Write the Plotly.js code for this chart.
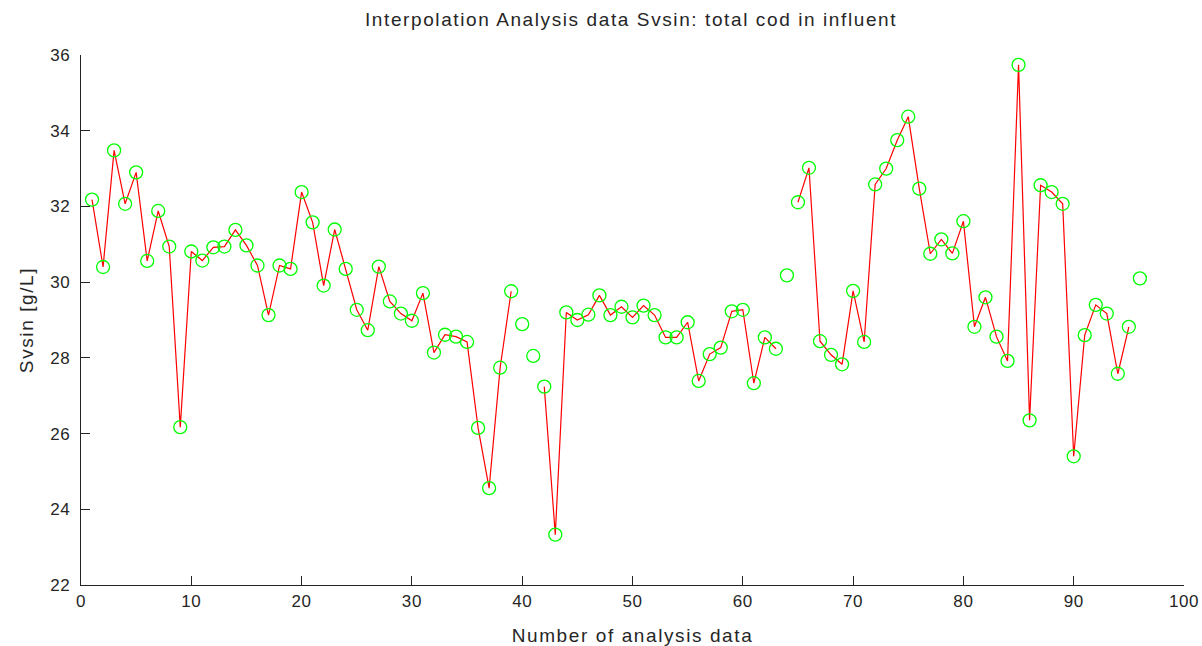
<!DOCTYPE html>
<html>
<head>
<meta charset="utf-8">
<script src="https://cdn.plot.ly/plotly-3.0.1.min.js"></script>
<style>
html,body{margin:0;padding:0;background:#fff;}
#chart{width:1202px;height:646px;}
#chart .gtitle, #chart .xtitle, #chart .ytitle { letter-spacing: 1.6px; }
#chart .xtick text, #chart .ytick text { letter-spacing: 0.6px; }
</style>
</head>
<body>
<div id="chart"></div>
<script>
const sampleIndex = Array.from({length: 96}, (_, i) => i + 1);
const svsinValues = [
  32.18, 30.40, 33.48, 32.07, 32.90, 30.56, 31.88, 30.94, 26.17, 30.81,
  30.57, 30.92, 30.94, 31.38, 30.97, 30.44, 29.13, 30.44, 30.35, 32.38,
  31.58, 29.91, 31.39, 30.35, 29.27, 28.73, 30.41, 29.49, 29.17, 28.98,
  29.71, 28.14, 28.61, 28.56, 28.42, 26.15, 24.56, 27.74, 29.76, 28.89,
  28.05, 27.24, 23.33, 29.20, 29.00, 29.14, 29.65, 29.13, 29.35, 29.07,
  29.38, 29.13, 28.54, 28.54, 28.94, 27.39, 28.10, 28.27, 29.23, 29.27,
  27.33, 28.54, 28.24, 30.18, 32.11, 33.02, 28.44, 28.08, 27.83, 29.77,
  28.42, 32.58, 33.00, 33.75, 34.37, 32.47, 30.75, 31.13, 30.76, 31.61,
  28.82, 29.60, 28.56, 27.92, 35.74, 26.35, 32.56, 32.38, 32.07, 25.40,
  28.60, 29.40, 29.17, 27.58, 28.82, 30.10
];
// samples that are not joined by the interpolation line
const lineGaps = [40, 41, 64, 96];

const lineValues = svsinValues.map((v, i) => lineGaps.includes(sampleIndex[i]) ? null : v);

const xTicks = [0, 10, 20, 30, 40, 50, 60, 70, 80, 90, 100];
const yTicks = [22, 24, 26, 28, 30, 32, 34, 36];

const fontFam = '"Liberation Sans", Arial, sans-serif';
const txtColor = '#262626';

const traces = [
  {
    x: sampleIndex, y: lineValues, type: 'scatter', mode: 'lines',
    line: {color: '#ff0000', width: 1.2}, connectgaps: false, hoverinfo: 'skip'
  },
  {
    x: sampleIndex, y: svsinValues, type: 'scatter', mode: 'markers',
    marker: {symbol: 'circle-open', size: 13, color: '#00ff00', line: {width: 1.3, color: '#00ff00'}}
  }
];

const layout = {
  width: 1202, height: 646,
  margin: {l: 81, r: 18, t: 55, b: 61},
  paper_bgcolor: '#ffffff', plot_bgcolor: '#ffffff',
  showlegend: false,
  font: {family: fontFam, size: 16, color: txtColor},
  title: {text: 'Interpolation Analysis data Svsin: total cod in influent', x: 0.525, xanchor: 'center', y: 0.97, yanchor: 'middle', font: {family: fontFam, size: 19, color: txtColor}},
  xaxis: {
    range: [0, 100], tickvals: xTicks, ticktext: xTicks.map(String),
    showgrid: false, zeroline: false, showline: true, linecolor: '#222', linewidth: 1.2,
    ticks: 'inside', ticklen: 9, tickwidth: 1, tickcolor: '#222',
    tickfont: {family: fontFam, size: 17, color: txtColor},
    title: {text: 'Number of analysis data', font: {family: fontFam, size: 19, color: txtColor}}
  },
  yaxis: {
    range: [22, 36], tickvals: yTicks, ticktext: yTicks.map(String),
    showgrid: false, zeroline: false, showline: true, linecolor: '#222', linewidth: 1.2,
    ticks: 'inside', ticklen: 9, tickwidth: 1, tickcolor: '#222',
    ticklabelstandoff: 6,
    tickfont: {family: fontFam, size: 17, color: txtColor},
    title: {text: 'Svsin [g/L]', font: {family: fontFam, size: 19, color: txtColor}}
  }
};

Plotly.newPlot('chart', traces, layout, {displayModeBar: false, staticPlot: true});
</script>
</body>
</html>
